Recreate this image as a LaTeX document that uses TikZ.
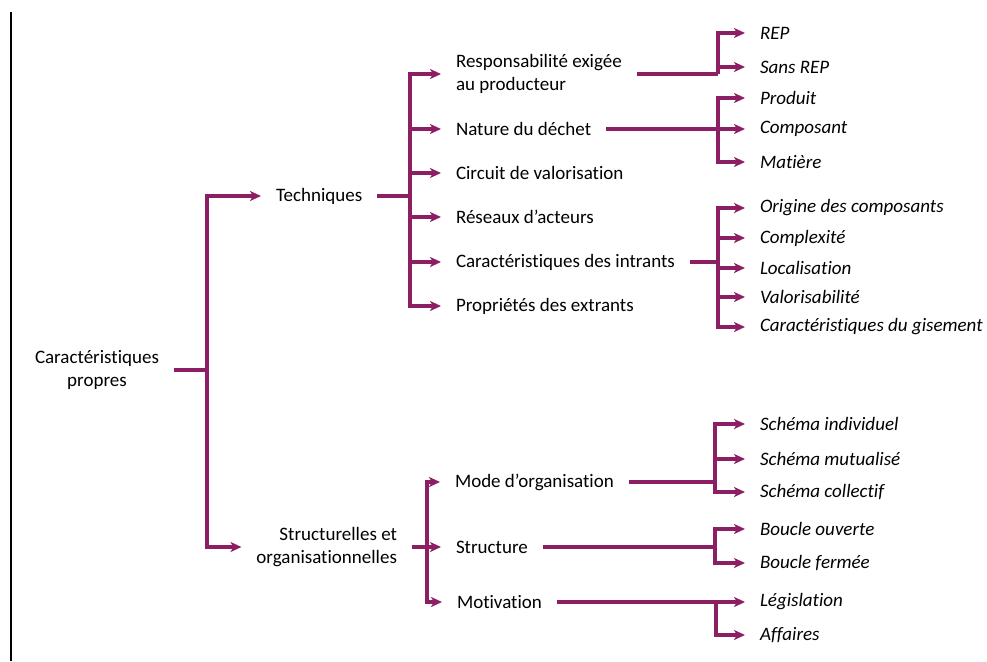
\documentclass[tikz,border=0pt]{standalone}
\usepackage{fontspec}
\setmainfont{Carlito}[Ligatures=NoCommon]
\usetikzlibrary{arrows.meta}
\definecolor{plum}{RGB}{140,30,100}

\begin{document}
\begin{tikzpicture}[x=1pt, y=-1pt,
  every node/.style={inner sep=0pt, outer xsep=15pt, outer ysep=0pt, font=\fontsize{19}{23}\selectfont},
  item/.style={anchor=west},
  leaf/.style={anchor=west, font=\fontsize{19}{23}\selectfont\itshape},
  bar/.style={draw=plum, line width=3.2pt},
  arr/.style={bar, -{Stealth[length=11pt,width=10pt,inset=3pt]}}]
  \useasboundingbox (0,0) rectangle (987,661);

  % Left rule
  \draw[line width=1.2pt] (11,12) -- (11,661);

  % Root
  \node[align=center] (root) at (97,370) {Caractéristiques\\propres};
  \node[item] (tech) at (261,196) {Techniques};
  \node[anchor=east, align=right] (struc) at (412,547) {Structurelles et\\organisationnelles};
  \coordinate (rootbus) at (207,370);
  \draw[bar] (root.east) -- (rootbus);
  \draw[arr] (rootbus) |- (tech.west);
  \draw[arr] (rootbus) |- (struc.west);

  % Techniques
  \node[item, align=left] (resp) at (441,74) {Responsabilité exigée\\au producteur};
  \node[item] (nat) at (441,129) {Nature du déchet};
  \node[item] (circ) at (441,173) {Circuit de valorisation};
  \node[item] (res) at (441,217) {Réseaux d’acteurs};
  \node[item] (intr) at (441,262) {Caractéristiques des intrants};
  \node[item] (extr) at (441,306) {Propriétés des extrants};
  \coordinate (techbus) at (410,196);
  \draw[bar, line width=4pt] (tech.east) -- (techbus);
  \foreach \n in {resp,nat,circ,res,intr,extr}
    \draw[arr] (techbus) |- (\n.west);

  % Responsabilite
  \node[leaf] (rep) at (745,33) {REP};
  \node[leaf] (srep) at (745,67) {Sans REP};
  \coordinate (respbus) at (718,74);
  \draw[bar] (resp.east) -- (respbus);
  \draw[arr] (respbus) |- (rep.west);
  \draw[arr] (respbus) |- (srep.west);

  % Nature
  \node[leaf] (prod) at (745,98) {Produit};
  \node[leaf] (comp) at (745,129) {Composant};
  \node[leaf] (mat) at (745,162) {Matière};
  \coordinate (natbus) at (718,129);
  \draw[arr] (nat.east) -- (comp.west);
  \draw[arr] (natbus) |- (prod.west);
  \draw[arr] (natbus) |- (mat.west);

  % Intrants
  \node[leaf] (orig) at (745,208) {Origine des composants};
  \node[leaf] (cplx) at (745,238) {Complexité};
  \node[leaf] (loc) at (745,268) {Localisation};
  \node[leaf] (valo) at (745,297) {Valorisabilité};
  \node[leaf] (gis) at (745,327) {Caractéristiques du gisement};
  \coordinate (intrbus) at (718,262);
  \draw[bar] (intr.east) -- (intrbus);
  \foreach \n in {orig,cplx,loc,valo,gis}
    \draw[arr] (intrbus) |- (\n.west);

  % Structurelles
  \node[item] (mode) at (440,482) {Mode d’organisation};
  \node[item] (struct) at (441,547) {Structure};
  \node[item] (motiv) at (442,602) {Motivation};
  \coordinate (strucbus) at (427,547);
  \draw[bar] (struc.east) -- (strucbus);
  \foreach \n in {mode,struct,motiv}
    \draw[arr] (strucbus) |- (\n.west);

  % Mode
  \node[leaf] (indiv) at (745,424) {Schéma individuel};
  \node[leaf] (mutu) at (745,459) {Schéma mutualisé};
  \node[leaf] (coll) at (745,492) {Schéma collectif};
  \coordinate (modebus) at (715,482);
  \draw[bar] (mode.east) -- (modebus);
  \foreach \n in {indiv,mutu,coll}
    \draw[arr] (modebus) |- (\n.west);

  % Structure
  \node[leaf] (ouv) at (745,529) {Boucle ouverte};
  \node[leaf] (ferm) at (745,563) {Boucle fermée};
  \coordinate (structbus) at (715,547);
  \draw[bar] (struct.east) -- (structbus);
  \draw[arr] (structbus) |- (ouv.west);
  \draw[arr] (structbus) |- (ferm.west);

  % Motivation
  \node[leaf] (leg) at (745,602) {Législation};
  \node[leaf] (aff) at (745,635) {Affaires};
  \coordinate (motivbus) at (716,602);
  \draw[arr] (motiv.east) -- (leg.west);
  \draw[arr] (motivbus) |- (aff.west);
\end{tikzpicture}
\end{document}
